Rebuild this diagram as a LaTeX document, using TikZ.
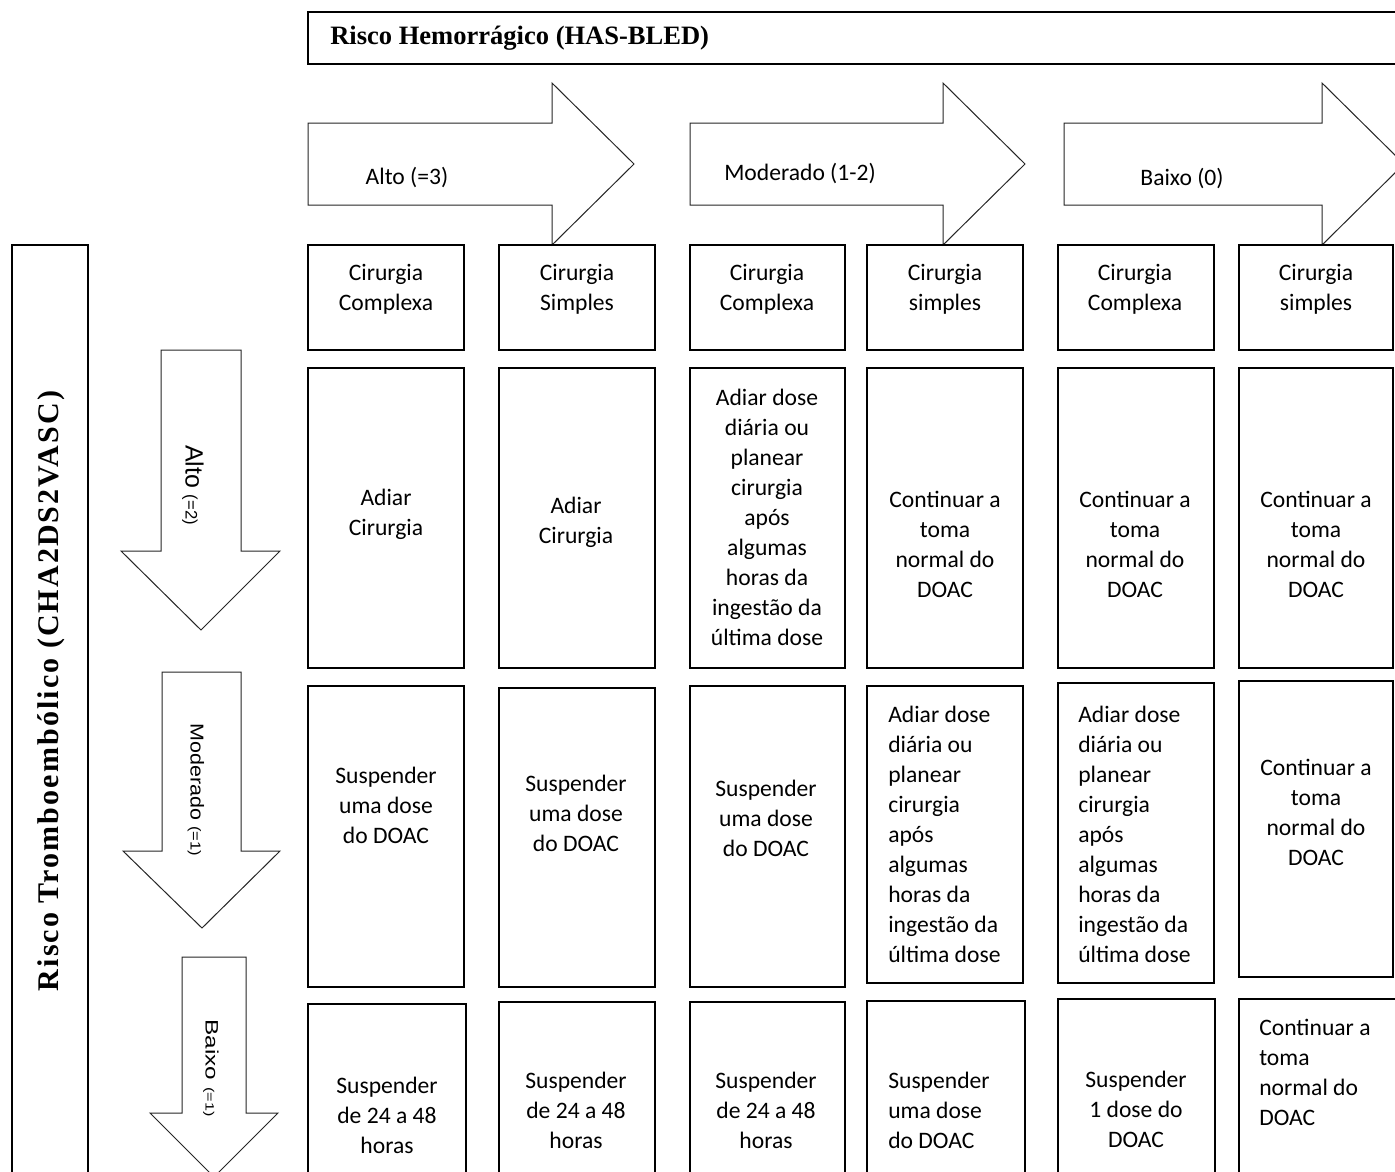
\documentclass[tikz,border=0pt]{standalone}
\usepackage{fontspec}
\usepackage{graphicx}
\setmainfont{Carlito}
\newfontfamily\titlefont{Liberation Serif}
\newfontfamily\vtitlefont[LetterSpace=7]{Liberation Serif}
\newfontfamily\arialfont{Liberation Sans}
\newcommand\cellfont{\fontsize{17.7}{22.5}\selectfont}
\tikzset{
  boxline/.style={draw=black, line width=1.5pt},
  arrowshape/.style={draw=black!85, line width=0.75pt, fill=white, line join=miter},
  txt/.style={inner sep=0pt, align=center, font=\cellfont},
  txtl/.style={inner sep=0pt, align=left, anchor=west, font=\cellfont},
}
\newcommand\mybox[4]{\draw[boxline] (#1,#2) rectangle (#3,#4);}
\begin{document}
\begin{tikzpicture}[x=0.75pt,y=-0.75pt]
\useasboundingbox (0,0) rectangle (1395,1171);
\clip (0,0) rectangle (1395,1171);
\fill[white] (0,0) rectangle (1395,1171);

% header box
\mybox{308}{12}{1430}{64}
\node[anchor=west, inner sep=0pt, font=\titlefont\bfseries\fontsize{19.9}{24}\selectfont] (hastitle) at (330,38) {Risco Hemorrágico (HAS-BLED)};

% left box
\mybox{12}{245}{88}{1200}
\node[rotate=90, inner sep=0pt, font=\vtitlefont\bfseries\fontsize{22.5}{27}\selectfont] (tromtitle) at (51,691) {Risco Tromboembólico (CHA2DS2VASC)};

% top arrows
\draw[arrowshape] (308,123) -- (552,123) -- (552,83) -- (634,164) -- (552,245) -- (552,205) -- (308,205) -- cycle;
\draw[arrowshape] (690,123) -- (943,123) -- (943,83) -- (1025,164) -- (943,245) -- (943,205) -- (690,205) -- cycle;
\draw[arrowshape] (1064,123) -- (1322,123) -- (1322,83) -- (1404,164) -- (1322,245) -- (1322,205) -- (1064,205) -- cycle;
\node[txt] (hA) at (407,178) {Alto (=3)};
\node[txt] (hM) at (800,174) {Moderado (1-2)};
\node[txt] (hB) at (1182,179) {Baixo (0)};

% vertical arrows
\draw[arrowshape] (161,350) -- (241,350) -- (241,551) -- (280,551) -- (201,630) -- (121,551) -- (161,551) -- cycle;
\draw[arrowshape] (162,672) -- (241,672) -- (241,851) -- (280,851) -- (202,928) -- (123,851) -- (162,851) -- cycle;
\draw[arrowshape] (182,957) -- (246,957) -- (246,1113) -- (278,1113) -- (214,1177) -- (150,1113) -- (182,1113) -- cycle;
\node[rotate=-90, inner sep=0pt, font=\arialfont] (vA) at (193,485) {\fontsize{18.7}{22}\selectfont Alto \fontsize{12.5}{15}\selectfont(=2)};
\node[rotate=-90, inner sep=0pt, font=\arialfont] (vM) at (196,790) {\scalebox{1.15}[1]{\fontsize{14}{17}\selectfont Moderado \fontsize{10.8}{13}\selectfont(=1)}};
\node[rotate=-90, inner sep=0pt, font=\arialfont] (vB) at (211,1068) {\scalebox{1.35}[1]{\fontsize{13.5}{16}\selectfont Baixo \fontsize{9}{11}\selectfont(=1)}};

% row 0
\mybox{308}{245}{464}{350}
\mybox{499}{245}{655}{350}
\mybox{690}{245}{845}{350}
\mybox{867}{245}{1023}{350}
\mybox{1058}{245}{1214}{350}
\mybox{1239}{245}{1393}{350}
\node[txt] (c01) at (386,289) {Cirurgia\\Complexa};
\node[txt] (c02) at (577,289) {Cirurgia\\Simples};
\node[txt] (c03) at (767,289) {Cirurgia\\Complexa};
\node[txt] (c04) at (945,289) {Cirurgia\\simples};
\node[txt] (c05) at (1135,289) {Cirurgia\\Complexa};
\node[txt] (c06) at (1316,289) {Cirurgia\\simples};

% row 1
\mybox{308}{368}{464}{668}
\mybox{499}{368}{655}{668}
\mybox{690}{368}{845}{668}
\mybox{867}{368}{1023}{668}
\mybox{1058}{368}{1214}{668}
\mybox{1239}{368}{1393}{668}
\node[txt] (c11) at (386,514) {Adiar\\Cirurgia};
\node[txt] (c12) at (576,522) {Adiar\\Cirurgia};
\node[txt] (c13) at (767,517) {Adiar dose\\diária ou\\planear\\cirurgia\\após\\algumas\\horas da\\ingestão da\\última dose};
\node[txt] (c14) at (945,544) {Continuar a\\toma\\normal do\\DOAC};
\node[txt] (c15) at (1135,544) {Continuar a\\toma\\normal do\\DOAC};
\node[txt] (c16) at (1316,544) {Continuar a\\toma\\normal do\\DOAC};

% row 2
\mybox{308}{686}{464}{987}
\mybox{499}{688}{655}{987}
\mybox{690}{686}{845}{987}
\mybox{867}{686}{1023}{983}
\mybox{1058}{683}{1214}{983}
\mybox{1239}{681}{1393}{977}
\node[txt] (c21) at (386,805) {Suspender\\uma dose\\do DOAC};
\node[txt] (c22) at (576,813) {Suspender\\uma dose\\do DOAC};
\node[txt] (c23) at (766,818) {Suspender\\uma dose\\do DOAC};
\node[txtl] (c24) at (888,834) {Adiar dose\\diária ou\\planear\\cirurgia\\após\\algumas\\horas da\\ingestão da\\última dose};
\node[txtl] (c25) at (1078,834) {Adiar dose\\diária ou\\planear\\cirurgia\\após\\algumas\\horas da\\ingestão da\\última dose};
\node[txt] (c26) at (1316,812) {Continuar a\\toma\\normal do\\DOAC};

% row 3
\mybox{308}{1004}{466}{1200}
\mybox{499}{1002}{655}{1200}
\mybox{690}{1002}{845}{1200}
\mybox{867}{1001}{1025}{1200}
\mybox{1058}{999}{1215}{1200}
\mybox{1239}{999}{1400}{1200}
\node[txt] (c31) at (387,1115) {Suspender\\de 24 a 48\\horas};
\node[txt] (c32) at (576,1110) {Suspender\\de 24 a 48\\horas};
\node[txt] (c33) at (766,1110) {Suspender\\de 24 a 48\\horas};
\node[txtl] (c34) at (888,1110) {Suspender\\uma dose\\do DOAC};
\node[txt] (c35) at (1136,1109) {Suspender\\1 dose do\\DOAC};
\node[txtl] (c36) at (1259,1072) {Continuar a\\toma\\normal do\\DOAC};
\end{tikzpicture}
\end{document}
